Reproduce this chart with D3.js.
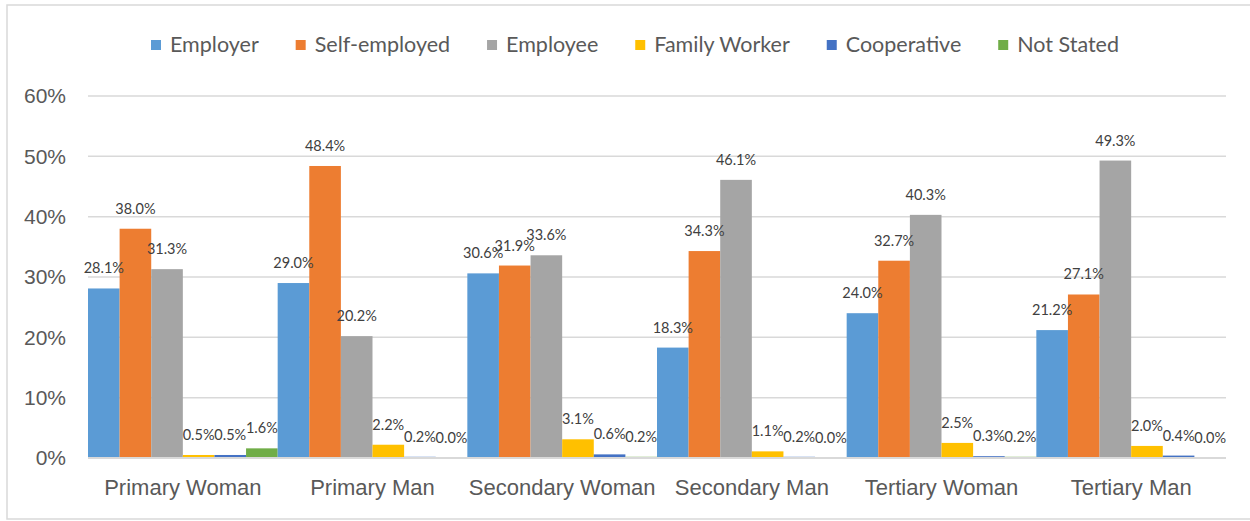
<!DOCTYPE html>
<html>
<head>
<meta charset="utf-8">
<script src="https://cdn.jsdelivr.net/npm/d3@7"></script>
<style>
  body { margin: 0; background: #fff; }
  svg { display: block; font-family: Lato, "Open Sans", sans-serif; }
</style>
</head>
<body>
<div id="chart"></div>
<script>
const categories = ["Primary Woman", "Primary Man", "Secondary Woman", "Secondary Man", "Tertiary Woman", "Tertiary Man"];
const seriesNames = ["Employer", "Self-employed", "Employee", "Family Worker", "Cooperative", "Not Stated"];
const seriesColors = ["#5b9bd5", "#ed7d31", "#a5a5a5", "#ffc000", "#4472c4", "#70ad47"];

const employer = [28.1, 29.0, 30.6, 18.3, 24.0, 21.2];
const selfEmployed = [38.0, 48.4, 31.9, 34.3, 32.7, 27.1];
const employee = [31.3, 20.2, 33.6, 46.1, 40.3, 49.3];
const familyWorker = [0.5, 2.2, 3.1, 1.1, 2.5, 2.0];
const cooperative = [0.5, 0.2, 0.6, 0.2, 0.3, 0.4];
const notStated = [1.6, 0.0, 0.2, 0.0, 0.2, 0.0];

const yTicks = [0, 10, 20, 30, 40, 50, 60];

const seriesValues = [employer, selfEmployed, employee, familyWorker, cooperative, notStated];

const width = 1250, height = 521;
const margin = { top: 96, bottom: 63, left: 88, right: 24 };

const svg = d3.select("#chart").append("svg")
  .attr("width", width)
  .attr("height", height);

// chart frame
svg.append("rect")
  .attr("x", 7).attr("y", 5)
  .attr("width", width + 10).attr("height", 514)
  .attr("fill", "#fff")
  .attr("stroke", "#d9d9d9")
  .attr("stroke-width", 1.5);

const x0 = d3.scaleBand()
  .domain(categories)
  .range([margin.left, width - margin.right])
  .paddingInner(0).paddingOuter(0);

const x1 = d3.scaleBand()
  .domain(seriesNames)
  .range([0, x0.bandwidth()])
  .padding(0);

const y = d3.scaleLinear()
  .domain([0, 60])
  .range([height - margin.bottom, margin.top]);

// gridlines
svg.append("g")
  .selectAll("line")
  .data(yTicks)
  .join("line")
  .attr("x1", margin.left)
  .attr("x2", width - margin.right)
  .attr("y1", d => y(d))
  .attr("y2", d => y(d))
  .attr("stroke", "#d9d9d9")
  .attr("stroke-width", 1.5);

// y axis labels
const yAxis = svg.append("g")
  .attr("transform", `translate(${margin.left - 22},0)`)
  .call(d3.axisLeft(y).tickValues(yTicks).tickSize(0).tickPadding(0).tickFormat(d => d + "%"));
yAxis.select(".domain").remove();
yAxis.selectAll("text")
  .attr("fill", "#595959")
  .style("font-size", "21px");

// bars
const rows = [];
categories.forEach((c, i) => {
  seriesNames.forEach((s, j) => {
    rows.push({ cat: c, series: s, value: seriesValues[j][i], color: seriesColors[j] });
  });
});

const bars = svg.append("g");
bars.selectAll("rect")
  .data(rows)
  .join("rect")
  .attr("x", d => x0(d.cat) + x1(d.series))
  .attr("y", d => y(d.value))
  .attr("width", x1.bandwidth())
  .attr("height", d => y(0) - y(d.value))
  .attr("fill", d => d.color);

// zero line on top
svg.append("line")
  .attr("x1", margin.left)
  .attr("x2", width - margin.right)
  .attr("y1", y(0))
  .attr("y2", y(0))
  .attr("stroke", "#d9d9d9")
  .attr("stroke-width", 2);

// data labels
bars.selectAll("text")
  .data(rows)
  .join("text")
  .attr("x", d => x0(d.cat) + x1(d.series) + x1.bandwidth() / 2)
  .attr("y", d => y(d.value) - 15)
  .attr("text-anchor", "middle")
  .attr("fill", "#404040")
  .style("font-size", "14.5px")
  .text(d => d.value.toFixed(1) + "%");

// x axis labels
const xAxis = svg.append("g")
  .attr("transform", `translate(0,${y(0)})`)
  .call(d3.axisBottom(x0).tickSize(0).tickPadding(21));
xAxis.select(".domain").remove();
xAxis.selectAll("text")
  .attr("fill", "#595959")
  .style("font-size", "22px");

// legend
const legend = svg.append("g");
const items = legend.selectAll("g")
  .data(seriesNames)
  .join("g");
items.append("rect")
  .attr("width", 10).attr("height", 10)
  .attr("y", -10)
  .attr("fill", (d, i) => seriesColors[i]);
items.append("text")
  .attr("x", 19)
  .attr("y", 0)
  .attr("dy", "0.1em")
  .attr("fill", "#595959")
  .style("font-size", "21.5px")
  .text(d => d);

// spread legend items between the same left and right edges as the original
const widths = [];
items.each(function () {
  widths.push(this.querySelector("text").getComputedTextLength() + 19);
});
const legendLeft = 151, legendRight = 1119;
const gap = (legendRight - legendLeft - d3.sum(widths)) / (widths.length - 1);
let offset = legendLeft;
const starts = widths.map(w => { const s = offset; offset += w + gap; return s; });
items.attr("transform", (d, i) => `translate(${starts[i]},50)`);
</script>
</body>
</html>
